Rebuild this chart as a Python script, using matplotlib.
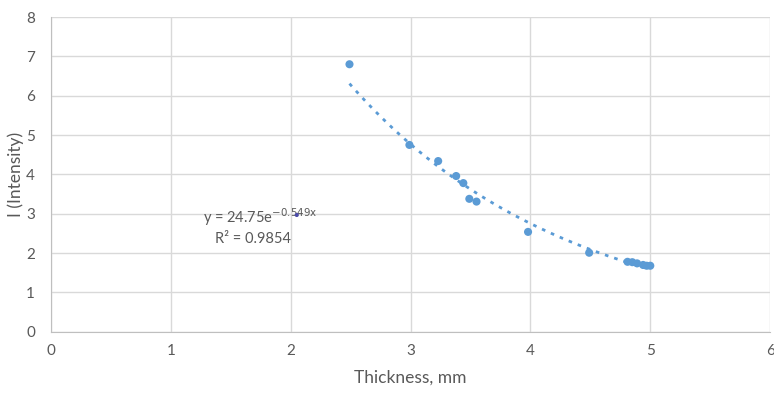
import matplotlib.pyplot as plt
import numpy as np

plt.rcParams['font.family'] = ['Lato', 'DejaVu Sans']

# измерения: толщина (мм) и интенсивность
thickness = [2.49, 2.99, 3.23, 3.38, 3.44, 3.49, 3.55, 3.98, 4.49, 4.81, 4.85, 4.89, 4.94, 4.97, 5.0]
intensity = [6.80, 4.75, 4.34, 3.96, 3.78, 3.38, 3.31, 2.54, 2.01, 1.78, 1.77, 1.74, 1.70, 1.68, 1.68]

# маленькая отдельная точка у подписи уравнения
stray_x = [2.05]
stray_y = [2.97]

# коэффициенты экспоненциального тренда
coef_a = 24.75
coef_b = -0.549
trend_from, trend_to = 2.49, 5.0

blue = '#5B9BD5'
grey = '#595959'

fig = plt.figure(figsize=(7.74, 3.96), dpi=100)
ax = fig.add_axes([0.066, 0.162, 0.929, 0.795])

ax.scatter(thickness, intensity, s=34, color=blue, zorder=3, edgecolors='none')

# тренд y = a*e^(b*x)
xt = np.linspace(trend_from, trend_to, 100)
ax.plot(xt, coef_a * np.exp(coef_b * xt), color=blue, lw=2.0,
        linestyle=(0, (1.3, 2.2)), zorder=2)

ax.scatter(stray_x, stray_y, s=9, color='#4B4BA8', zorder=4, edgecolors='none')

ax.text(1.27, 2.92, 'y = 24.75e$^{\\mathrm{-0.549x}}$', ha='left', va='center',
        fontsize=10.5, color=grey)
ax.text(1.37, 2.35, 'R² = 0.9854', ha='left', va='center',
        fontsize=10.5, color=grey)

ax.set_xlim(0, 6)
ax.set_ylim(0, 8)
ax.set_xticks(range(0, 7))
ax.set_yticks(range(0, 9))
ax.grid(True, color='#d9d9d9', lw=1)
ax.set_axisbelow(True)
ax.tick_params(length=0, labelsize=11, labelcolor=grey)
ax.tick_params(axis='y', pad=11.5)
ax.tick_params(axis='x', pad=9)

for side in ['top', 'right']:
    ax.spines[side].set_visible(False)
for side in ['left', 'bottom']:
    ax.spines[side].set_color('#bfbfbf')

ax.set_xlabel('Thickness, mm', fontsize=12.5, color=grey, labelpad=8)
ax.set_ylabel('I (Intensity)', fontsize=12.5, color=grey)
ax.yaxis.set_label_coords(-0.038, 0.5)

fig.savefig('out.png', dpi=100)
